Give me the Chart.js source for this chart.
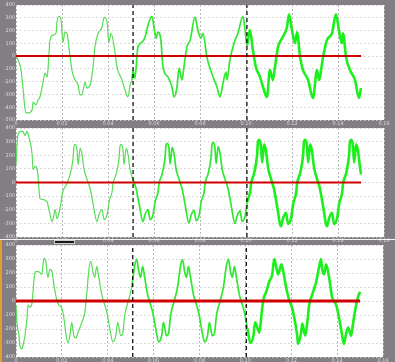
<!DOCTYPE html>
<html><head><meta charset="utf-8">
<script src="https://cdn.jsdelivr.net/npm/chart.js@4/dist/chart.umd.min.js"></script>
<style>
html,body{margin:0;padding:0;background:#827e84;width:395px;height:362px;overflow:hidden;position:relative}
canvas{position:absolute;left:0}
.deco{position:absolute}
</style></head><body>
<canvas id="c1" width="395" height="128" style="top:0"></canvas>
<canvas id="c2" width="395" height="125" style="top:120px"></canvas>
<canvas id="c3" width="395" height="125" style="top:237px"></canvas>
<div class="deco" style="left:0;top:239px;width:395px;height:1px;background:#f2f2f2"></div>
<div class="deco" style="left:0;top:240px;width:2px;height:122px;background:#e0a030"></div>
<div class="deco" style="left:54px;top:240px;width:19px;height:2px;background:#1a1a1a;border:1px solid #cfcfcf"></div>
<script>
// time axis (seconds)
const xMin = 0, xMax = 0.16, xStep = 0.02;
const eventTimes = [0.0509, 0.1004];      // black dashed markers
const refSpanMs = [0, 150];               // red reference line span (ms)
const refLevel = 0;

// Panel 1 (top)
const p1TimesMs = [0,0.9,2.2,3.0,3.5,4.3,5.2,7.0,7.4,8.7,9.6,10.4,11.7,12.6,13.5,13.9,14.3,14.8,16.1,17.4,17.8,18.7,19.6,20.4,21.3,22.2,23.0,24.3,25.7,27.0,27.8,28.7,30.0,30.9,32.2,33.5,34.3,35.7,37.4,38.3,39.6,40.4,41.3,42.6,43.9,46.1,47.4,48.7,49.6,50.4,50.9,51.7,53.0,54.8,56.1,57.4,59.1,60.0,60.9,61.7,63.0,63.9,66.1,67.8,68.7,70.0,70.9,72.2,73.0,74.3,75.7,77.8,79.1,80.4,81.3,83.0,85.7,87.4,88.7,90.0,91.3,91.7,93.0,94.8,96.5,98.7,99.6,100.4,101.7,103.0,104.3,106.1,107.8,109.1,110.4,111.7,112.6,113.9,115.7,117.8,118.7,120.0,121.3,122.2,123.5,124.8,127.0,129.1,130.9,131.7,133.5,135.2,137.4,139.1,140.4,141.7,142.2,143.5,145.2,147.4,149.1,150.0];
const p1Values = [0,-31,-109,-242,-343,-445,-445,-421,-359,-382,-343,-320,-211,-133,-164,-109,8,125,164,179,265,312,281,109,187,179,70,-109,-187,-226,-304,-304,-203,-250,-226,-86,70,179,226,304,265,109,179,86,-86,-187,-265,-320,-226,-187,-109,-172,70,109,148,242,312,226,140,187,125,-86,-164,-242,-320,-242,-94,-187,-86,70,125,304,203,140,179,-8,-164,-242,-320,-211,-125,-187,-31,101,179,312,203,86,203,47,-86,-164,-265,-320,-109,-187,-86,70,140,226,328,203,101,187,-8,-109,-187,-328,-109,-187,-8,125,179,328,203,101,179,-8,-109,-187,-328,-250];
const p1Range = [-500, 400];

// Panel 2 (middle)
const p2TimesMs = [0,0.4,0.9,2.2,3.0,3.9,4.8,5.2,6.1,7.0,7.4,8.3,9.1,9.6,10.4,11.7,13.5,14.3,15.7,16.1,17.0,17.8,18.3,19.1,20.4,
22.2,23.5,24.8,25.2,25.7,26.5,27.0,27.9,28.7,29.6,30.9,32.2,33.5,35.2,36.1,37.4,38.3,39.6,40.5,41.8,
42.2,43.5,44.8,45.2,45.7,46.5,47.0,47.9,48.7,49.6,50.9,52.2,53.5,55.2,56.1,57.4,58.3,59.6,60.5,61.8,
62.2,63.5,64.8,65.2,65.7,66.5,67.0,67.9,68.7,69.6,70.9,72.2,73.5,75.2,76.1,77.4,78.3,79.6,80.5,81.8,
82.2,83.5,84.8,85.2,85.7,86.5,87.0,87.9,88.7,89.6,90.9,92.2,93.5,95.2,96.1,97.4,98.3,99.6,100.5,101.8,
102.2,103.5,104.8,105.2,105.7,106.5,107.0,107.9,108.7,109.6,110.9,112.2,113.5,115.2,116.1,117.4,118.3,119.6,120.5,121.8,
122.2,123.5,124.8,125.2,125.7,126.5,127.0,127.9,128.7,129.6,130.9,132.2,133.5,135.2,136.1,137.4,138.3,139.6,140.5,141.8,
142.2,143.5,144.8,145.2,145.7,146.5,147.0,147.9,148.7,149.6,150.0];
const p2Values = [132,265,353,375,375,345,375,360,301,206,96,118,103,44,-118,-125,-140,-198,-287,-272,-198,-265,-250,-191,-66,
-7,59,176,265,280,243,132,250,206,96,22,-44,-154,-287,-235,-198,-272,-235,-140,-66,
-7,59,176,265,280,243,132,250,206,96,22,-44,-154,-287,-235,-198,-272,-235,-140,-66,
-7,61,181,273,288,250,136,258,212,99,23,-45,-159,-296,-242,-204,-280,-242,-144,-68,
-7,62,185,278,294,255,139,263,216,101,23,-46,-162,-301,-247,-208,-286,-247,-147,-69,
-8,66,197,297,314,272,148,280,231,108,25,-49,-172,-321,-263,-222,-305,-263,-157,-74,
-8,66,197,297,314,272,148,280,231,108,25,-49,-172,-321,-263,-222,-305,-263,-157,-74,
-8,66,197,297,314,272,148,280,231,108,60];
const p2Range = [-400, 400];

// Panel 3 (bottom)
const p3TimesMs = [0,0.4,1.3,1.7,2.6,3.0,3.9,4.8,5.2,6.1,7.0,7.4,8.3,9.1,10.4,11.3,11.7,12.2,13.0,13.9,14.8,15.7,16.5,17.8,18.7,20.0,20.9,21.7,22.6,23.5,24.3,25.2,26.1,27.0,28.7,30.0,30.9,31.7,32.6,33.5,34.3,35.2,36.1,37.4,38.3,39.6,40.9,42.2,43.5,44.3,45.7,46.5,47.4,48.7,50.4,51.7,52.6,
53.5,54.3,55.2,56.1,57.4,58.3,59.6,60.9,62.2,63.5,64.3,65.6,66.5,67.4,68.7,70.4,71.7,
72.6,73.5,74.3,75.2,76.1,77.4,78.3,79.6,80.9,82.2,83.5,84.3,85.6,86.5,87.4,88.7,90.4,91.7,
92.6,93.5,94.3,95.2,96.1,97.4,98.3,99.6,100.9,102.2,103.5,104.3,
106.1,107.0,107.8,109.1,110.4,111.7,112.6,113.5,114.3,115.7,116.5,117.8,119.1,120.4,121.7,122.6,123.0,124.3,124.8,126.1,127.0,127.8,129.1,130.9,132.2,133.0,133.5,134.3,135.2,136.5,137.8,139.6,140.9,142.2,143.0,143.9,144.8,146.1,147.0,148.3,149.1,150.0];
const p3Values = [-29,-153,-248,-321,-343,-321,-248,-124,-29,-44,-15,66,204,212,204,190,248,307,285,168,226,212,117,7,-29,-51,-124,-226,-299,-248,-153,-248,-263,-226,-153,-80,58,212,285,212,168,248,168,44,-7,-80,-197,-292,-248,-153,-248,-234,-102,-15,95,248,299,
212,168,248,168,44,-7,-80,-197,-292,-248,-153,-248,-234,-102,-15,95,248,
295,212,168,248,168,44,-7,-80,-197,-292,-248,-153,-248,-234,-102,-15,95,248,
300,212,168,248,168,44,-7,-80,-197,-300,-248,-153,
-226,-102,7,66,139,190,299,241,190,263,212,95,7,-51,-153,-248,-307,-226,-161,-248,-153,-29,44,139,248,299,226,190,263,168,29,-29,-124,-248,-307,-234,-190,-248,-153,-29,29,66];
const p3Range = [-400, 400];

const whiteArea = {
  id: 'whiteArea',
  beforeDraw(chart) {
    const a = chart.chartArea, g = chart.ctx;
    g.save(); g.fillStyle = '#ffffff';
    g.fillRect(a.left, a.top, a.right - a.left, a.bottom - a.top);
    g.restore();
  }
};

function build(id, timesMs, values, range, opts) {
  const sig = timesMs.map((t, i) => ({x: t / 1000, y: values[i]}));
  const red = refSpanMs.map(t => ({x: t / 1000, y: refLevel}));
  const datasets = [
    {data: sig, borderColor: '#45dc45', borderWidth: 1.3, pointRadius: 0, order: 3,
     cubicInterpolationMode: 'monotone',
     segment: {
       borderWidth: c => c.p0.parsed.x >= 0.1 ? 2.6 : (c.p0.parsed.x >= 0.05 ? 1.7 : 1.2),
       borderColor: c => c.p0.parsed.x >= 0.1 ? '#1cf01c' : (c.p0.parsed.x >= 0.05 ? '#30e830' : '#55dd55')
     }},
    {data: red, borderColor: '#d00000', borderWidth: opts.redWidth, pointRadius: 0, order: 2}
  ];
  eventTimes.forEach(t => datasets.push({
    data: [{x: t, y: range[0]}, {x: t, y: range[1]}],
    borderColor: '#000', borderWidth: 1.2, borderDash: [4, 3], pointRadius: 0, order: 1
  }));
  const tickFont = {size: 5, family: 'DejaVu Sans'};
  new Chart(document.getElementById(id), {
    type: 'line',
    data: {datasets},
    plugins: [whiteArea],
    options: {
      responsive: false, animation: false, events: [],
      plugins: {legend: {display: false}, tooltip: {enabled: false}},
      layout: {padding: {top: opts.padTop, right: opts.padRight, left: 0, bottom: 0}},
      scales: {
        x: {
          type: 'linear', min: xMin, max: xMax,
          afterFit: s => { s.height = opts.xH; },
          ticks: {stepSize: xStep, font: tickFont, color: '#dcdcdc', padding: 1, maxRotation: 0, autoSkip: false,
                  callback: v => Math.abs(v) < 1e-9 ? '0' : v.toFixed(2)},
          grid: {color: '#b8b8b8', lineWidth: 1, drawTicks: false},
          border: {display: false, dash: [2, 2]}
        },
        y: {
          type: 'linear', min: range[0], max: range[1],
          afterFit: s => { s.width = 16; },
          ticks: {stepSize: 100, font: tickFont, color: '#dcdcdc', padding: 1, autoSkip: false},
          grid: {color: '#cdcdcd', lineWidth: 1, drawTicks: false},
          border: {display: false, dash: [1.5, 2.5]}
        }
      }
    }
  });
}

build('c1', p1TimesMs, p1Values, p1Range, {padTop: 5, padRight: 11, xH: 8, redWidth: 2});
build('c2', p2TimesMs, p2Values, p2Range, {padTop: 8, padRight: 11, xH: 8, redWidth: 2});
build('c3', p3TimesMs, p3Values, p3Range, {padTop: 8, padRight: 12, xH: 5, redWidth: 3});
</script>
</body></html>
